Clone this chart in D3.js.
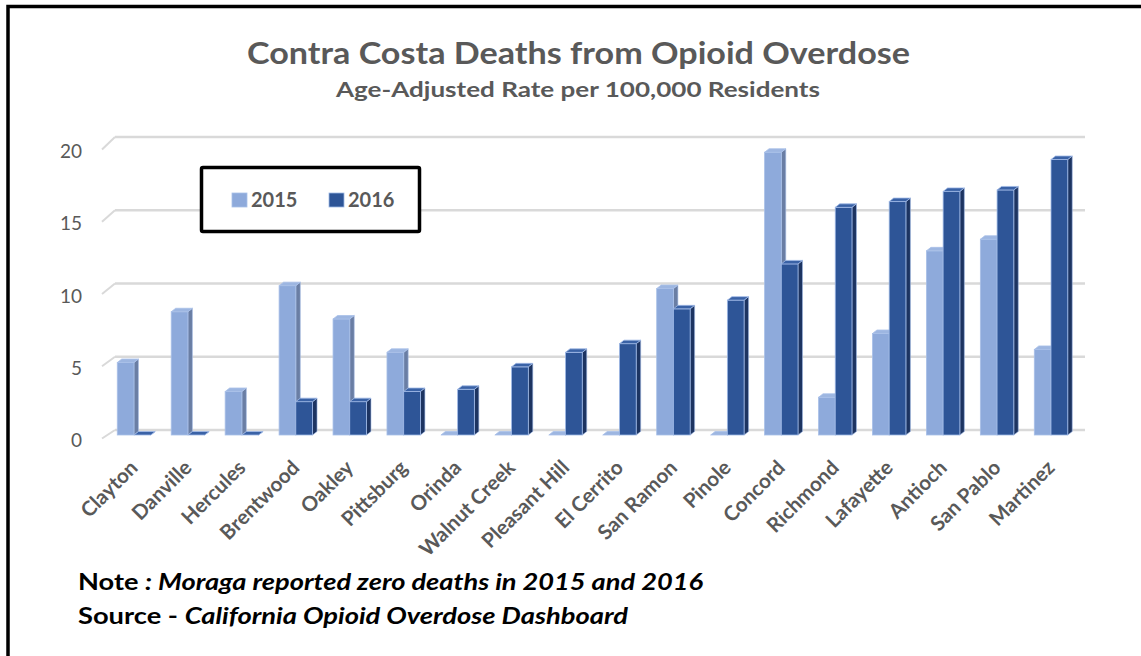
<!DOCTYPE html>
<html>
<head>
<meta charset="utf-8">
<script src="https://cdn.jsdelivr.net/npm/d3@7"></script>
<style>
  body { margin: 0; background: #fff; }
  text { font-family: Lato, "Open Sans", sans-serif; }
</style>
</head>
<body>
<script>
// values
const cities = ['Clayton', 'Danville', 'Hercules', 'Brentwood', 'Oakley', 'Pittsburg', 'Orinda',
  'Walnut Creek', 'Pleasant Hill', 'El Cerrito', 'San Ramon', 'Pinole', 'Concord', 'Richmond',
  'Lafayette', 'Antioch', 'San Pablo', 'Martinez']
const rate2015 = [5.0, 8.5, 3.0, 10.3, 8.0, 5.7, 0, 0, 0, 0, 10.1, 0, 19.5, 2.6, 7.0, 12.7, 13.5, 5.9]
const rate2016 = [0, 0, 0, 2.3, 2.3, 3.0, 3.15, 4.7, 5.7, 6.3, 8.7, 9.3, 11.8, 15.7, 16.1, 16.8, 16.9, 19.0]
const years = ['2015', '2016']
const yTicks = [0, 5, 10, 15, 20]

const W = 1141, H = 656
const svg = d3.select('body').append('svg')
    .attr('width', W)
    .attr('height', H)

// outer frame
svg.append('rect')
    .attr('x', 8).attr('y', 6.5)
    .attr('width', W + 20).attr('height', H + 20)
    .attr('fill', 'none')
    .attr('stroke', '#000')
    .attr('stroke-width', 3.5)

const colors = {
  '2015': { front: '#8eaadb', top: '#9db6e1', side: '#6a7ea4', edge: '#a9c0e8' },
  '2016': { front: '#2e5597', top: '#3a62a6', side: '#1d3461', edge: '#9fb9e6' }
}

// 3D projection planes: back wall, bar plane, front edge
const yBack = d3.scaleLinear().domain([0, 20]).range([430, 137])
const yBar = d3.scaleLinear().domain([0, 20]).range([435, 145])
const yFront = d3.scaleLinear().domain([0, 20]).range([438.5, 149.5])
const depthX = 4.5, depthY = 3.5

const x = d3.scaleBand()
    .domain(cities)
    .range([100, 1085])
    .paddingInner(0.38)
    .paddingOuter(0.32)
const xs = d3.scaleBand()
    .domain(years)
    .range([0, x.bandwidth()])

// gridlines
const grid = svg.append('g')
yTicks.forEach(function(t){
    grid.append('line')
        .attr('x1', 115).attr('x2', 1085)
        .attr('y1', yBack(t)).attr('y2', yBack(t))
        .attr('stroke', '#d9d9d9')
        .attr('stroke-width', 2.5)
    grid.append('line')
        .attr('x1', 102).attr('x2', 115)
        .attr('y1', yFront(t)).attr('y2', yBack(t))
        .attr('stroke', '#d9d9d9')
        .attr('stroke-width', 2)
    svg.append('text')
        .attr('x', 82)
        .attr('y', yFront(t) + 1)
        .attr('dominant-baseline', 'central')
        .attr('text-anchor', 'end')
        .attr('fill', '#595959')
        .attr('font-size', '19px')
        .text(t)
})

// bars
const rows = cities.map((c, i) => ({ city: c, values: [rate2015[i], rate2016[i]] }))
const bars = svg.append('g')
rows.forEach(function(r){
    r.values.forEach(function(v, j){
        const yr = years[j]
        const c = colors[yr]
        const x0 = x(r.city) + xs(yr)
        const w = xs.bandwidth()
        const yt = yBar(v), yb = yBar(0)
        const g = bars.append('g')
        // side face
        g.append('path')
            .attr('d', `M${x0 + w},${yt}L${x0 + w + depthX},${yt - depthY}L${x0 + w + depthX},${yb - depthY}L${x0 + w},${yb}Z`)
            .attr('fill', c.side)
            .attr('stroke', c.edge).attr('stroke-width', 0.6)
        // front face
        g.append('rect')
            .attr('x', x0).attr('y', yt)
            .attr('width', w).attr('height', yb - yt)
            .attr('fill', c.front)
            .attr('stroke', c.edge).attr('stroke-width', 0.8)
        // top face
        g.append('path')
            .attr('d', `M${x0},${yt}L${x0 + w},${yt}L${x0 + w + depthX},${yt - depthY}L${x0 + depthX},${yt - depthY}Z`)
            .attr('fill', c.top)
            .attr('stroke', c.edge).attr('stroke-width', 0.8)
    })
})

// category labels
svg.append('g').selectAll('text')
    .data(cities)
    .enter()
    .append('text')
    .attr('transform', d => `translate(${x(d) + x.bandwidth() / 2 + 5},469) rotate(-45)`)
    .attr('text-anchor', 'end')
    .attr('fill', '#595959')
    .attr('font-weight', 'bold')
    .attr('font-size', '20.5px')
    .text(d => d)

// titles
function fit(sel, width){
    sel.attr('textLength', width).attr('lengthAdjust', 'spacingAndGlyphs')
}
svg.append('text')
    .attr('x', 247).attr('y', 64)
    .attr('fill', '#595959')
    .attr('font-weight', 'bold')
    .attr('font-size', '31px')
    .text('Contra Costa Deaths from Opioid Overdose')
    .call(fit, 663)
svg.append('text')
    .attr('x', 336).attr('y', 97)
    .attr('fill', '#595959')
    .attr('font-weight', 'bold')
    .attr('font-size', '21px')
    .text('Age-Adjusted Rate per 100,000 Residents')
    .call(fit, 484)

// legend
svg.append('rect')
    .attr('x', 201.5).attr('y', 167.5)
    .attr('width', 218).attr('height', 64)
    .attr('fill', '#fff')
    .attr('stroke', '#000')
    .attr('stroke-width', 3.5)
    .attr('rx', 1.5)
const legendX = [232, 329]
years.forEach(function(yr, i){
    svg.append('rect')
        .attr('x', legendX[i]).attr('y', 193)
        .attr('width', 15).attr('height', 14)
        .attr('fill', colors[yr].front)
        .attr('stroke', colors[yr].edge).attr('stroke-width', 0.8)
    svg.append('text')
        .attr('x', legendX[i] + 19).attr('y', 207)
        .attr('fill', '#595959')
        .attr('font-weight', 'bold')
        .attr('font-size', '20px')
        .text(yr)
})

// notes
const note = svg.append('text')
    .attr('x', 78).attr('y', 590)
    .attr('fill', '#000')
    .attr('font-weight', 'bold')
    .attr('font-size', '22px')
note.append('tspan').text('Note ')
note.append('tspan').attr('font-style', 'italic').text(': Moraga reported zero deaths in 2015 and 2016')
fit(note, 625)

const source = svg.append('text')
    .attr('x', 78).attr('y', 624)
    .attr('fill', '#000')
    .attr('font-weight', 'bold')
    .attr('font-size', '22px')
source.append('tspan').text('Source - ')
source.append('tspan').attr('font-style', 'italic').text('California Opioid Overdose Dashboard')
fit(source, 550)
</script>
</body>
</html>
